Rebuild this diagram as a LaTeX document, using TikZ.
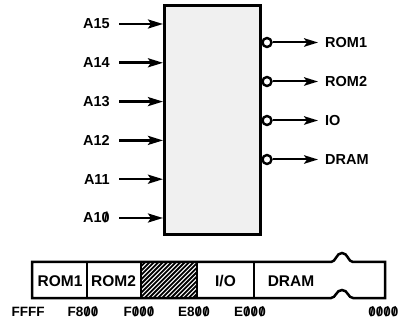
\documentclass[tikz,border=0pt]{standalone}
\usepackage{fontspec}
\setmainfont{Liberation Sans}
\usetikzlibrary{arrows.meta}
\newcommand\zs{\ooalign{0\cr\hidewidth/\hidewidth\cr}}
\begin{document}
\begin{tikzpicture}[x=1pt,y=-1pt,
  lab/.style={font=\fontsize{14.5}{14.5}\selectfont\bfseries, inner sep=0pt},
  blab/.style={font=\fontsize{15.5}{15.5}\selectfont\bfseries, inner sep=0pt},
  alab/.style={font=\fontsize{13.5}{13.5}\selectfont\bfseries, inner sep=0pt},
  insig/.style={line width=2.6pt, -{Stealth[length=15pt,width=9pt,inset=3pt]}},
  outsig/.style={line width=2pt, -{Stealth[length=14pt,width=8.5pt,inset=3pt]}},
  bub/.style={circle, draw, line width=2.4pt, minimum size=9pt, inner sep=0pt, fill=white},
  barline/.style={line width=2.5pt}]
\useasboundingbox (0,0) rectangle (399,323);
% decoder box
\node[draw, line width=3pt, fill=gray!12, minimum width=95.5pt, minimum height=229pt, inner sep=0pt] (dec) at (212.25,120.5) {};
% inputs
\foreach \n/\t/\y in {a15/A15/24, a14/A14/62.8, a13/A13/101.6, a12/A12/140.4, a11/A11/179.2, a10/A1\zs/218}{
  \node[lab, anchor=east] (\n) at (110,\y) {\t};
  \draw[insig] ([xshift=9pt]\n.east) -- (dec.west |- \n.east);
}
% outputs
\foreach \n/\t/\y in {r1/ROM1/42.5, r2/ROM2/81.5, io/IO/120.5, dr/DRAM/159.5}{
  \node[bub] (c\n) at (267,\y) {};
  \node[lab, anchor=west] (\n) at (325,\y) {\t};
  \draw[outsig, shorten >=7pt] (c\n.east) -- (\n.west);
}
% memory map bar
\begin{scope}
  \clip (141,262) rectangle (197,298);
  \foreach \i in {0,...,22}
    \draw[line width=1.8pt] (105+\i*4.4,298) -- ++(36,-36);
\end{scope}
\draw[barline] (32,262) -- (331,262)
  .. controls (336,262) and (336,253) .. (342,253)
  .. controls (348,253) and (348,262) .. (353,262)
  -- (385,262) -- (385,298) -- (353,298)
  .. controls (348,298) and (348,290) .. (342,290)
  .. controls (336,290) and (336,298) .. (331,298)
  -- (32,298) -- cycle;
\foreach \x in {87,141,197,254}
  \draw[barline] (\x,262) -- (\x,298);
\node[blab] (m1) at (60,281.5) {ROM1};
\node[blab] (m2) at (113.5,281.5) {ROM2};
\node[blab] (m3) at (225.5,281.5) {I/O};
\node[blab] (m4) at (291,281.5) {DRAM};
% addresses
\node[alab] (ffff) at (28,312) {FFFF};
\node[alab] (f800) at (83,312) {F8\zs\zs};
\node[alab] (f000) at (139,312) {F\zs\zs\zs};
\node[alab] (e800) at (194,312) {E8\zs\zs};
\node[alab] (e000) at (250,312) {E\zs\zs\zs};
\node[alab, anchor=east] (z0) at (398.5,312) {\zs\zs\zs\zs};
\end{tikzpicture}
\end{document}
